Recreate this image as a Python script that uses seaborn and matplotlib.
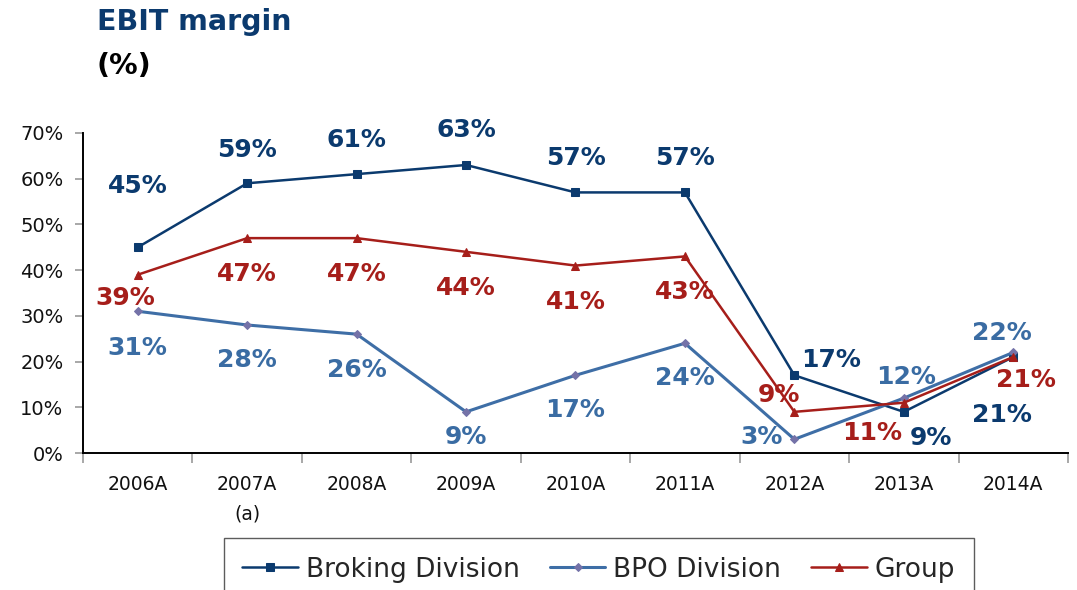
import pandas as pd
import matplotlib.pyplot as plt
import seaborn as sns
from matplotlib.ticker import FixedLocator, FuncFormatter

# Data
years = ['2006A', '2007A\n(a)', '2008A', '2009A', '2010A', '2011A', '2012A', '2013A', '2014A']
broking = [45, 59, 61, 63, 57, 57, 17, 9, 21]
bpo = [31, 28, 26, 9, 17, 24, 3, 12, 22]
group = [39, 47, 47, 44, 41, 43, 9, 11, 21]

# label offsets (pixels) per point
off_broking = [(0, 61), (0, 33), (0, 34), (0, 35), (0, 34), (0, 34), (37, 15), (27, -26), (-11, -58)]
off_bpo = [(0, -37), (0, -35), (0, -36), (0, -25), (0, -35), (0, -35), (-33, 2), (2, 21), (-11, 19)]
off_group = [(-13, -23), (0, -36), (0, -36), (0, -36), (0, -36), (0, -36), (-15, 17), (-32, -30), (13, -23)]

sns.set_style('white')
plt.rcParams['font.family'] = ['DejaVu Sans']

c_brok = '#0B3A6E'
c_bpo = '#3E6EA6'
c_bpo_lab = '#3A6CA3'
c_bpo_mk = '#7472A8'
c_grp = '#A61E1A'

fig = plt.figure(figsize=(10.77, 5.9), dpi=100)
ax = fig.add_axes([0.0771, 0.2322, 0.9145, 0.5424])

df = pd.DataFrame({'year': years, 'Broking Division': broking,
                   'BPO Division': bpo, 'Group': group})
x = list(range(len(years)))

sns.lineplot(x=x, y=df['Broking Division'], ax=ax, color=c_brok, lw=1.8,
             marker='s', markersize=6, markeredgecolor=c_brok, label='Broking Division')
sns.lineplot(x=x, y=df['BPO Division'], ax=ax, color=c_bpo, lw=2.2,
             marker='D', markersize=4, markerfacecolor=c_bpo_mk, markeredgecolor=c_bpo_mk,
             label='BPO Division')
sns.lineplot(x=x, y=df['Group'], ax=ax, color=c_grp, lw=1.8,
             marker='^', markersize=6, markeredgecolor=c_grp, label='Group')

for vals, offs, col in [(broking, off_broking, c_brok), (bpo, off_bpo, c_bpo_lab), (group, off_group, c_grp)]:
    for i, (v, o) in enumerate(zip(vals, offs)):
        ax.annotate(f'{v}%', (i, v), xytext=o, textcoords='offset pixels',
                    ha='center', va='center', fontsize=18, fontweight='bold', color=col)

ax.set_xlim(-0.5, len(years) - 0.5)
ax.set_ylim(0, 70)
ax.set_yticks(range(0, 71, 10))
ax.yaxis.set_major_formatter(FuncFormatter(lambda v, p: f'{int(v)}%'))
ax.set_xticks(x)
ax.set_xticklabels(years, linespacing=1.7)
ax.xaxis.set_minor_locator(FixedLocator([i - 0.5 for i in range(len(years) + 1)]))
ax.tick_params(axis='x', which='major', bottom=True, length=0, pad=16, labelsize=13.5, colors='#111111')
ax.tick_params(axis='x', which='minor', bottom=True, length=7, width=1.2, color='#999999', direction='out')
ax.tick_params(axis='y', left=True, length=6, width=1.2, color='#999999', direction='out', labelsize=14,
               labelcolor='#111111', pad=8)
ax.set_xlabel('')
ax.set_ylabel('')
sns.despine(ax=ax)
for s in ['left', 'bottom']:
    ax.spines[s].set_color('black')
    ax.spines[s].set_linewidth(1.4)

fig.text(0.090, 0.962, 'EBIT margin', fontsize=20.5, fontweight='bold', color='#0B3A6E', va='center')
fig.text(0.090, 0.888, '(%)', fontsize=20.5, fontweight='bold', color='black', va='center')

ax.legend_.remove()
h, l = ax.get_legend_handles_labels()
leg = fig.legend(h, l, loc='upper center', bbox_to_anchor=(0.556, 0.088), ncol=3,
                 fontsize=19, frameon=True, fancybox=False, edgecolor='#333333',
                 handlelength=2.1, handletextpad=0.3, columnspacing=1.15, borderpad=0.7,
                 borderaxespad=0)
leg.get_frame().set_linewidth(1.0)

fig.savefig('out.png', dpi=100)
